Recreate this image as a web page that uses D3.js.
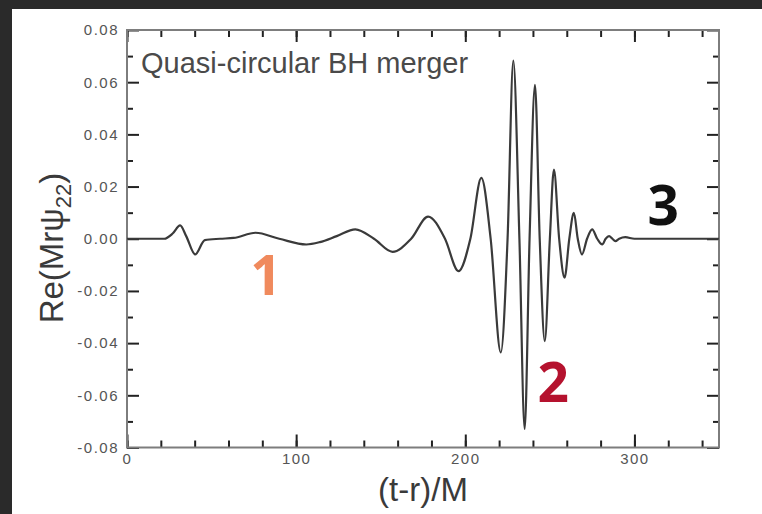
<html>
<head>
<script src="https://d3js.org/d3.v7.min.js"></script>
<style>
  body { margin: 0; background: #2a2a2a; }
  svg { display: block; }
</style>
</head>
<body>
<svg id="wave"></svg>

<script>
// waveform: time (t-r)/M and Re(M r psi_22)
var times  = [0, 22, 27, 31.4, 35, 40.3, 46, 55, 63, 76, 90, 106, 114, 124, 135, 146, 157, 168, 178, 188,
              196, 203, 209.5, 215, 221, 225, 228.4, 232, 235.1, 238, 241.2, 244, 247, 250, 252.4, 255.5,
              258.7, 261.5, 264.2, 266.5, 269, 272, 275, 278, 281, 283, 285, 287, 288.7, 291, 294.6, 300, 350];
var values = [0, 0, 0.002, 0.0051, 0.001, -0.006, -0.0005, 0, 0.0003, 0.0023, 0, -0.0022, -0.0013, 0.001, 0.0036, 0, -0.005, 0, 0.0085, 0,
              -0.0124, 0, 0.0233, 0, -0.0436, 0, 0.0683, 0, -0.0729, 0, 0.059, 0, -0.0392, 0, 0.0265, 0,
              -0.0149, 0, 0.0099, 0, -0.006, 0, 0.0036, 0, -0.0022, 0, 0.001, 0, -0.0009, 0, 0.0006, 0, 0];

var xTickLabels = ["0", "100", "200", "300"];
var xMinorTicks = d3.range(0, 341, 20);
var yTickLabels = ["-0.08", "-0.06", "-0.04", "-0.02", "0.00", "0.02", "0.04", "0.06", "0.08"];
var yMinorTicks = [-0.07, -0.05, -0.03, -0.01, 0.01, 0.03, 0.05, 0.07];

var width = 762
var height = 514
var plotLeft = 127, plotRight = 719, plotTop = 30, plotBottom = 447.5

var svg = d3.select("#wave")
      .attr("width", width)
      .attr("height", height)

// dark backdrop and white card
svg.append("rect").attr("width", width).attr("height", height).attr("fill", "#2a2a2a");
svg.append("rect").attr("x", 12).attr("y", 9).attr("width", width - 12).attr("height", height - 9).attr("fill", "#ffffff");

var x = d3.scaleLinear().domain([0, 350]).range([plotLeft, plotRight]);
var y = d3.scaleLinear().domain([-0.08, 0.08]).range([plotBottom, plotTop]);

var xMajor = xTickLabels.map(Number);
var yMajor = yTickLabels.map(Number);

function styleAxis(g) {
  g.select(".domain").remove();
  g.selectAll(".tick line").attr("stroke", "#222").attr("stroke-width", 2);
  g.selectAll(".tick text").attr("fill", "#555").attr("font-family", "Arial, 'Liberation Sans', sans-serif")
   .attr("font-size", 15).attr("letter-spacing", 1.5);
}

// minor ticks on all four sides (inward)
svg.append("g").attr("transform", "translate(0," + plotBottom + ")")
   .call(d3.axisBottom(x).tickValues(xMinorTicks).tickSize(-7).tickFormat("")).call(styleAxis);
svg.append("g").attr("transform", "translate(0," + plotTop + ")")
   .call(d3.axisTop(x).tickValues(xMinorTicks).tickSize(-7).tickFormat("")).call(styleAxis);
svg.append("g").attr("transform", "translate(" + plotLeft + ",0)")
   .call(d3.axisLeft(y).tickValues(yMinorTicks).tickSize(-6).tickFormat("")).call(styleAxis);
svg.append("g").attr("transform", "translate(" + plotRight + ",0)")
   .call(d3.axisRight(y).tickValues(yMinorTicks).tickSize(-6).tickFormat("")).call(styleAxis);

// major ticks with labels
svg.append("g").attr("transform", "translate(0," + plotBottom + ")")
   .call(d3.axisBottom(x).tickValues(xMajor).tickSize(-13).tickPadding(6)
     .tickFormat(function(d, i) { return xTickLabels[i]; })).call(styleAxis);
svg.append("g").attr("transform", "translate(0," + plotTop + ")")
   .call(d3.axisTop(x).tickValues(xMajor).tickSize(-12).tickFormat("")).call(styleAxis);
svg.append("g").attr("transform", "translate(" + plotLeft + ",0)")
   .call(d3.axisLeft(y).tickValues(yMajor).tickSize(-12).tickPadding(8)
     .tickFormat(function(d, i) { return yTickLabels[i]; })).call(styleAxis);
svg.append("g").attr("transform", "translate(" + plotRight + ",0)")
   .call(d3.axisRight(y).tickValues(yMajor).tickSize(-12).tickFormat("")).call(styleAxis);

// frame
svg.append("rect")
   .attr("x", plotLeft).attr("y", plotTop)
   .attr("width", plotRight - plotLeft).attr("height", plotBottom - plotTop)
   .attr("fill", "none").attr("stroke", "#7d7d7d").attr("stroke-width", 2);

// waveform
var pts = times.map(function(t, i) { return [t, values[i]]; });
var line = d3.line()
   .x(function(d) { return x(d[0]); })
   .y(function(d) { return y(d[1]); })
   .curve(d3.curveMonotoneX);

svg.append("path").datum(pts)
   .attr("d", line)
   .attr("fill", "none")
   .attr("stroke", "#3a3a3a")
   .attr("stroke-width", 2.2)
   .attr("stroke-linejoin", "round");

// annotation
svg.append("text")
   .attr("x", x(8.3)).attr("y", y(0.0634))
   .attr("font-family", "Arial, 'Liberation Sans', sans-serif")
   .attr("font-size", 29).attr("fill", "#4a4a4a")
   .text("Quasi-circular BH merger");

var phases = [["1", 82.2, -0.0215, "#f08a5d"], ["2", 252, -0.0625, "#b5122e"], ["3", 317, 0.0053, "#111111"]];
svg.selectAll(".phase")
   .data(phases)
   .enter().append("text")
   .attr("x", function(d) { return x(d[1]); })
   .attr("y", function(d) { return y(d[2]); })
   .attr("text-anchor", "middle")
   .attr("font-family", "'Open Sans', 'Noto Sans', sans-serif")
   .attr("font-weight", "bold")
   .attr("font-size", 55)
   .attr("fill", function(d) { return d[3]; })
   .text(function(d) { return d[0]; });

// axis titles
svg.append("text")
   .attr("x", (plotLeft + plotRight) / 2).attr("y", 501)
   .attr("text-anchor", "middle")
   .attr("font-family", "Arial, 'Liberation Sans', sans-serif")
   .attr("font-size", 33).attr("fill", "#3a3a3a")
   .text("(t-r)/M");

var yTitle = svg.append("text")
   .attr("transform", "translate(63,248) rotate(-90)")
   .attr("text-anchor", "middle")
   .attr("font-family", "Arial, 'Liberation Sans', sans-serif")
   .attr("font-size", 33).attr("fill", "#3a3a3a");
yTitle.append("tspan").text("Re(Mr\u03C8");
yTitle.append("tspan").attr("font-size", 22).attr("dy", 8).text("22");
yTitle.append("tspan").attr("dy", -8).text(")");
</script>
</body>
</html>
